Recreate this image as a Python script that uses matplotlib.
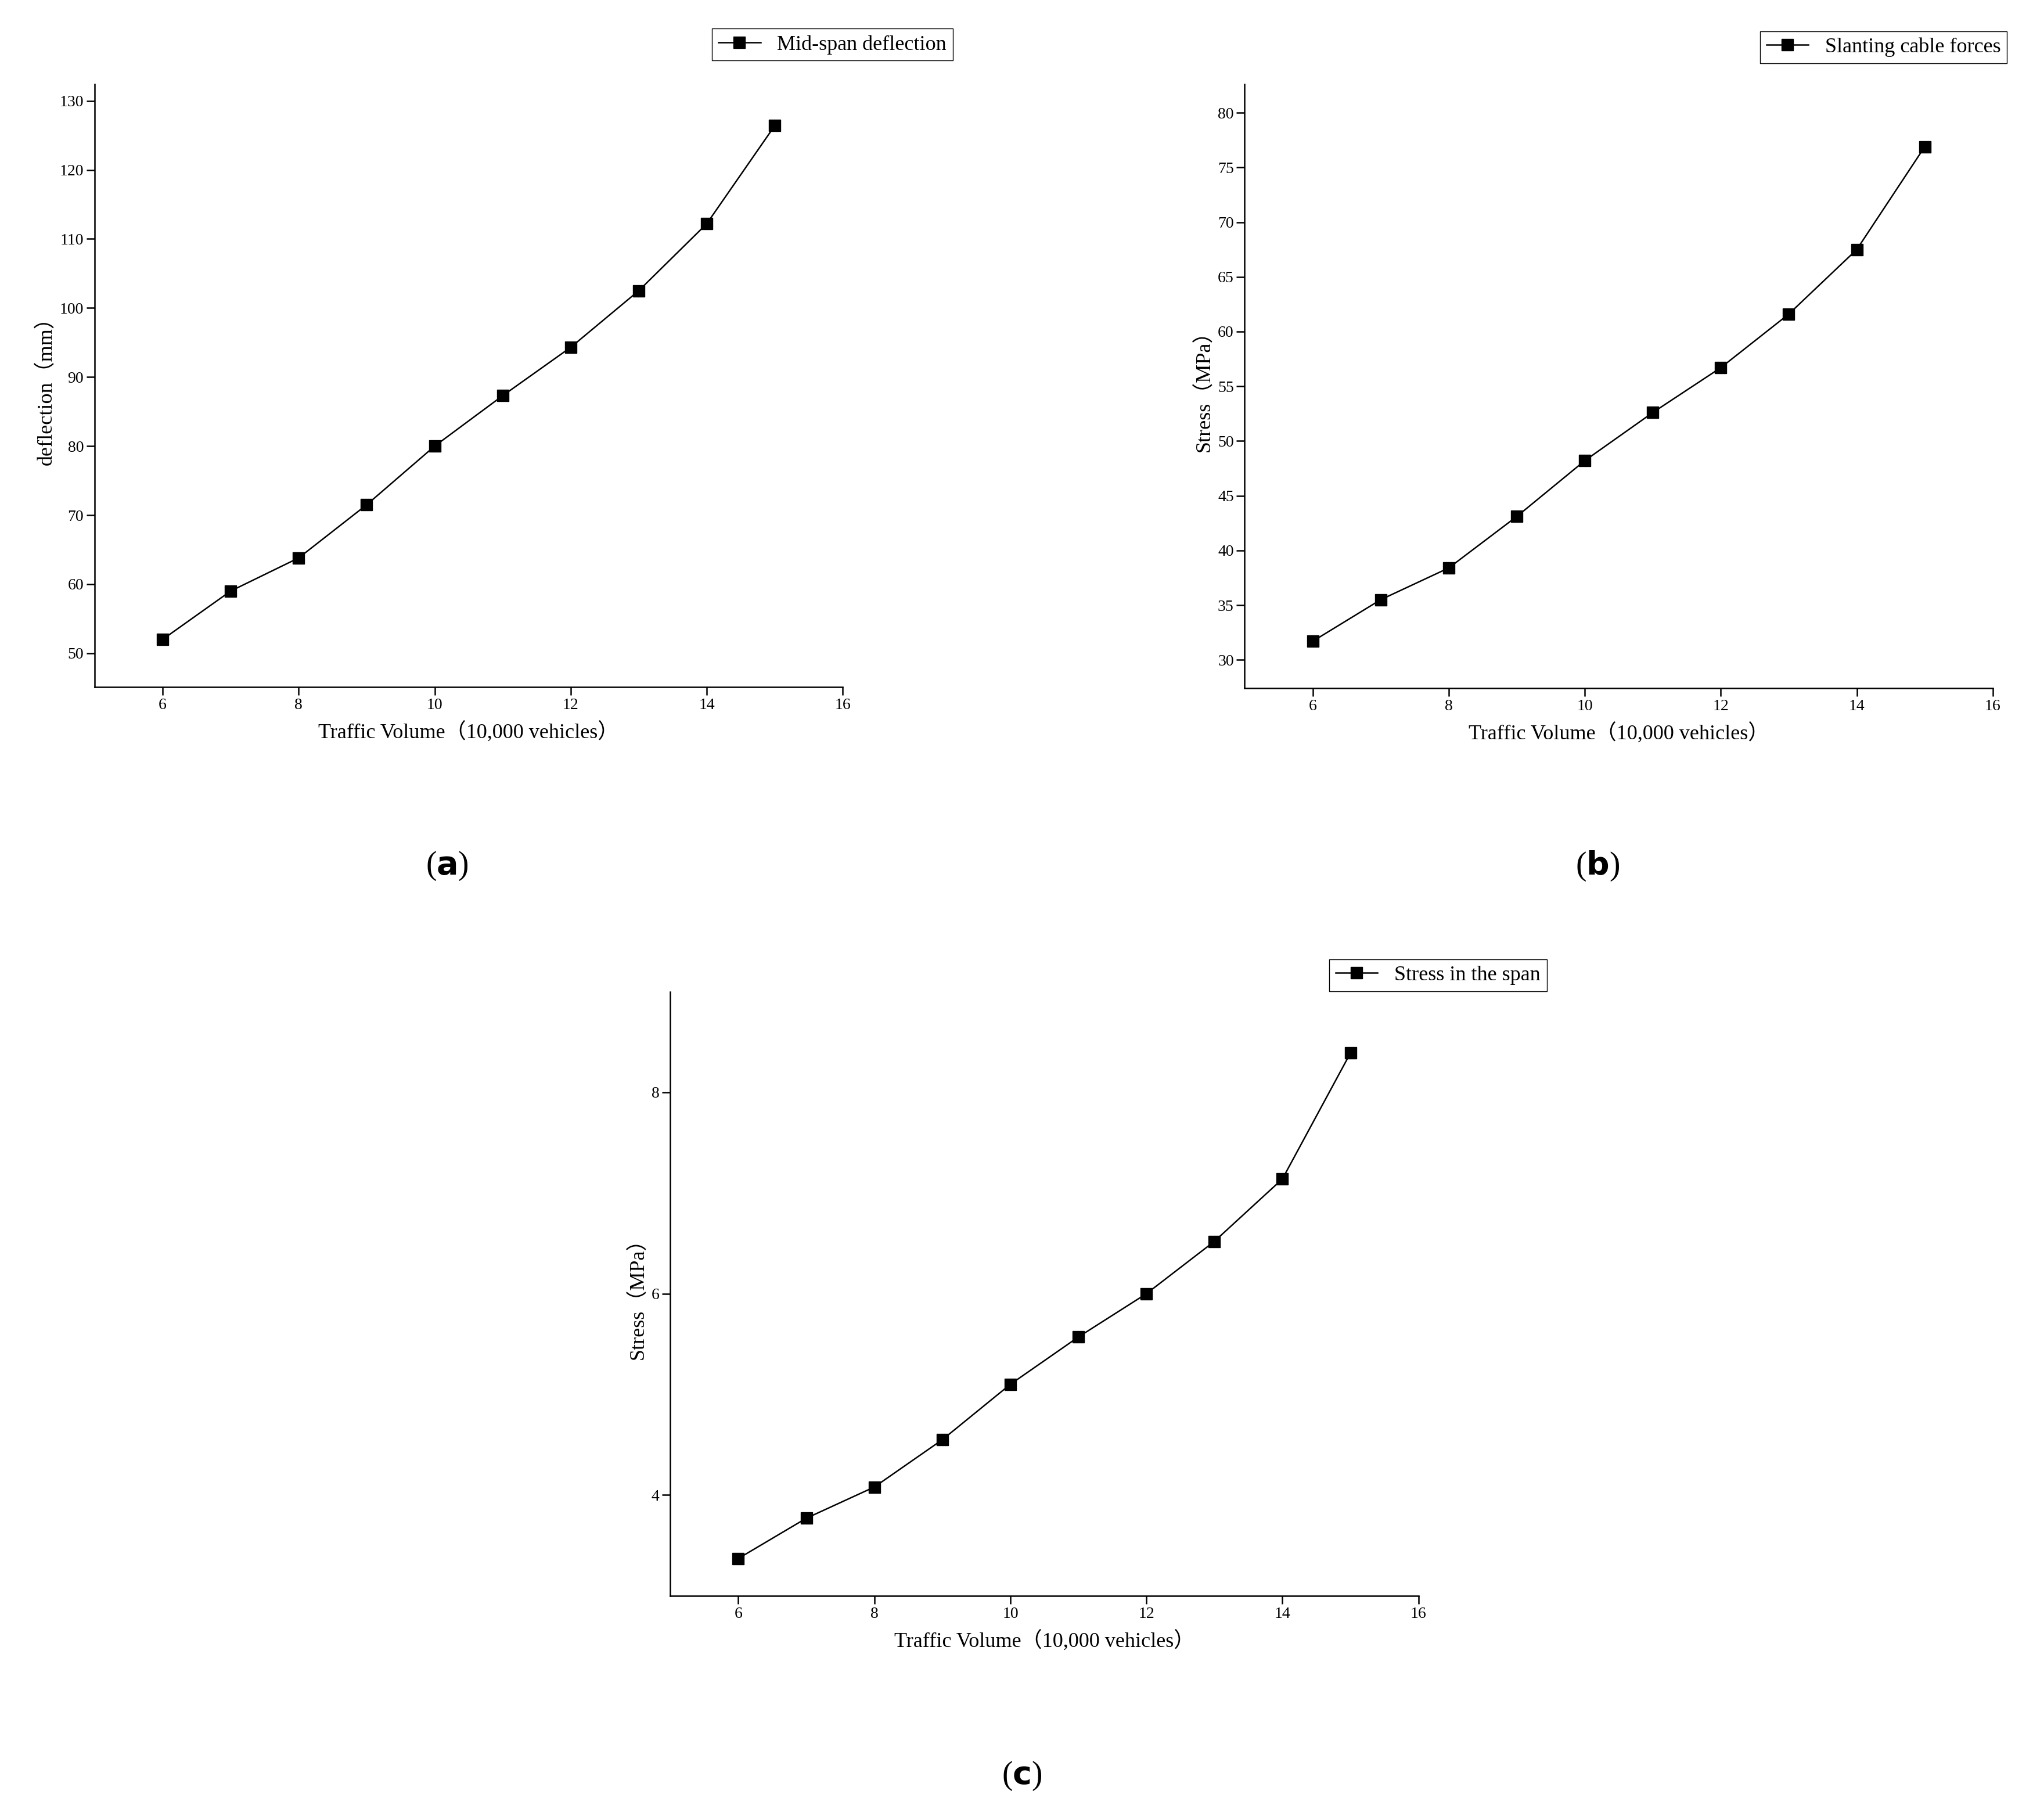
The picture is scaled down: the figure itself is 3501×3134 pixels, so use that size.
import matplotlib.pyplot as plt

plt.rcParams['font.family'] = ['Liberation Serif', 'Noto Sans CJK SC']

traffic = [6, 7, 8, 9, 10, 11, 12, 13, 14, 15]
deflection = [52.0, 59.0, 63.8, 71.5, 80.0, 87.3, 94.3, 102.5, 112.2, 126.4]
cable_stress = [31.7, 35.5, 38.4, 43.1, 48.2, 52.6, 56.7, 61.6, 67.5, 76.9]
span_stress = [3.37, 3.77, 4.08, 4.55, 5.10, 5.57, 6.00, 6.52, 7.14, 8.39]

W, H = 1568, 1404
fig = plt.figure(figsize=(35.01, 31.34), dpi=100)


def panel(rect, y, ylim, yticks, ylabel, label, legend_xy, letter, letter_xy):
    l, t, r, b = rect
    ax = fig.add_axes([l / W, 1 - b / H, (r - l) / W, (b - t) / H])
    line, = ax.plot(traffic, y, color='black', lw=1.8, marker='s', ms=15)
    ax.set_xlim(5, 16)
    ax.set_xticks([6, 8, 10, 12, 14, 16])
    ax.set_ylim(*ylim)
    ax.set_yticks(yticks)
    for s in ['top', 'right']:
        ax.spines[s].set_visible(False)
    for s in ['left', 'bottom']:
        ax.spines[s].set_linewidth(1.8)
    ax.tick_params(labelsize=20, width=1.8, length=10)
    ax.set_xlabel('Traffic Volume（10,000 vehicles）', fontsize=26, labelpad=12)
    ax.set_ylabel(ylabel, fontsize=26)
    fig.legend([line], [label], loc='upper right',
               bbox_to_anchor=(legend_xy[0] / W, 1 - legend_xy[1] / H),
               fontsize=26, fancybox=False, edgecolor='black', framealpha=1,
               handlelength=2, borderpad=0.3)
    fig.text(letter_xy[0] / W, 1 - letter_xy[1] / H, r'($\mathbf{' + letter + '}$)',
             ha='center', va='center', fontsize=40)
    return ax


panel((73, 65, 650, 530), deflection, (45.1, 132.4), range(50, 131, 10),
      'deflection（mm）', 'Mid-span deflection', (743, 14), 'a', (345, 668))
panel((960, 65, 1537, 531), cable_stress, (27.4, 82.6), range(30, 81, 5),
      'Stress（MPa）', 'Slanting cable forces', (1556, 16), 'b', (1232, 668))
panel((517, 765, 1094, 1231), span_stress, (3.0, 9.0), [4, 6, 8],
      'Stress（MPa）', 'Stress in the span', (1201, 732), 'c', (788, 1370))

fig.savefig('out.png')
